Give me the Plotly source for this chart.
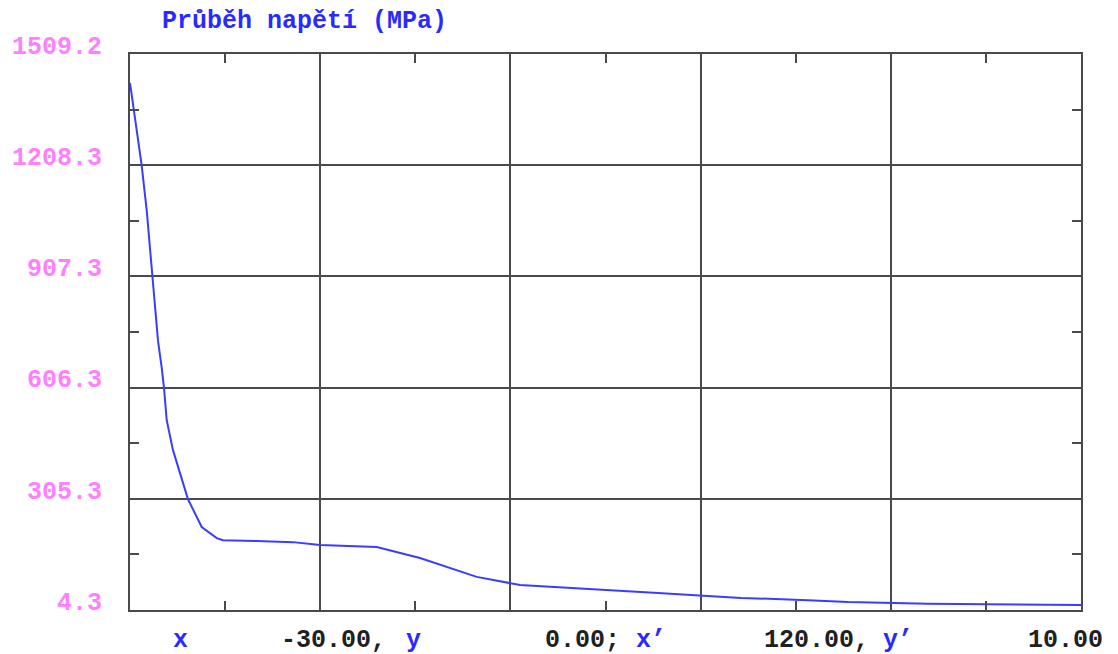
import plotly.graph_objects as go

# --- data ---
x_vals = [0.0, 0.042, 0.123, 0.176, 0.239, 0.294, 0.333, 0.358, 0.386, 0.452,
          0.610, 0.754, 0.912, 0.978, 1.332, 1.714, 1.998, 2.594, 3.049, 3.646,
          4.101, 4.953, 5.552, 5.899, 6.425, 7.129, 7.550, 8.391, 9.621, 10.0]
stress = [1431, 1355, 1207, 1085, 907, 734, 661, 604, 518, 437,
          304, 229, 199, 193, 191, 188, 180, 175, 145, 94,
          72, 58, 50, 45, 37, 31, 26, 21, 18, 18]

y_tick_labels = ["4.3", "305.3", "606.3", "907.3", "1208.3", "1509.2"]
y_tick_vals = [float(t) for t in y_tick_labels]
x_grid_vals = [0, 2, 4, 6, 8, 10]
x_minor_vals = [1, 3, 5, 7, 9]
title_text = "Průběh napětí (MPa)"
bottom_texts = ["x", "-30.00,", "y", "0.00;", "x’", "120.00,", "y’", "10.00"]
bottom_colors = ["#2a2aff", "#202020", "#2a2aff", "#202020",
                 "#2a2aff", "#202020", "#2a2aff", "#202020"]
bottom_pos_px = [180, 333, 413, 582, 651, 816, 898, 1065]

FONT = "Liberation Mono"
FS = 25
GRID = "#4a4a4a"

fig = go.Figure()
fig.add_trace(go.Scatter(x=x_vals, y=stress, mode="lines",
                         line=dict(color="#3c3cff", width=2),
                         showlegend=False, hoverinfo="skip"))

# page body has an 8px margin; figure is placed at (8, 8) in the window
OFF = 8
W, H = 1118 - OFF, 654 - OFF
L, T = 130 - OFF, 54 - OFF
R, B = 1118 - 1081, 654 - 610
pw = W - L - R
ph = H - T - B

fig.update_layout(
    width=W, height=H,
    margin=dict(l=L, r=R, t=T, b=B, pad=0, autoexpand=False),
    paper_bgcolor="white", plot_bgcolor="white",
    showlegend=False,
)

fig.update_xaxes(
    range=[0, 10], tickvals=x_grid_vals, showticklabels=False,
    automargin=False,
    showgrid=True, gridcolor=GRID, gridwidth=2,
    showline=True, linecolor=GRID, linewidth=2, mirror="allticks",
    ticks="inside", ticklen=0, tickcolor=GRID,
    zeroline=False,
    minor=dict(tickvals=x_minor_vals, ticks="inside", ticklen=9,
               tickwidth=2, tickcolor=GRID, showgrid=False),
)
y_minor = [(y_tick_vals[i] + y_tick_vals[i + 1]) / 2 for i in range(len(y_tick_vals) - 1)]
fig.update_yaxes(
    range=[y_tick_vals[0], y_tick_vals[-1]],
    tickvals=y_tick_vals, ticktext=y_tick_labels,
    tickfont=dict(family=FONT, size=FS, color="#ff80ff", weight="bold"),
    ticklabelshift=-9, ticklabelstandoff=21,
    automargin=False,
    showgrid=True, gridcolor=GRID, gridwidth=2,
    showline=True, linecolor=GRID, linewidth=2, mirror="allticks",
    ticks="inside", ticklen=0, tickcolor=GRID,
    zeroline=False,
    minor=dict(tickvals=y_minor, ticks="inside", ticklen=9,
               tickwidth=2, tickcolor=GRID, showgrid=False),
)

# window-pixel helpers -> paper coords
def px_x(px):
    return (px - 130) / pw

def px_y(py):
    return (610 - py) / ph

fig.add_annotation(text=title_text, xref="paper", yref="paper",
                   x=px_x(160), y=px_y(22),
                   xanchor="left", yanchor="middle", showarrow=False,
                   font=dict(family=FONT, size=FS, color="#2a2aff", weight="bold"))

for txt, col, px in zip(bottom_texts, bottom_colors, bottom_pos_px):
    fig.add_annotation(text=txt, xref="paper", yref="paper",
                       x=px_x(px), y=px_y(640),
                       xanchor="center", yanchor="middle", showarrow=False,
                       font=dict(family=FONT, size=FS, color=col, weight="bold"))

fig.write_html("out.html")
